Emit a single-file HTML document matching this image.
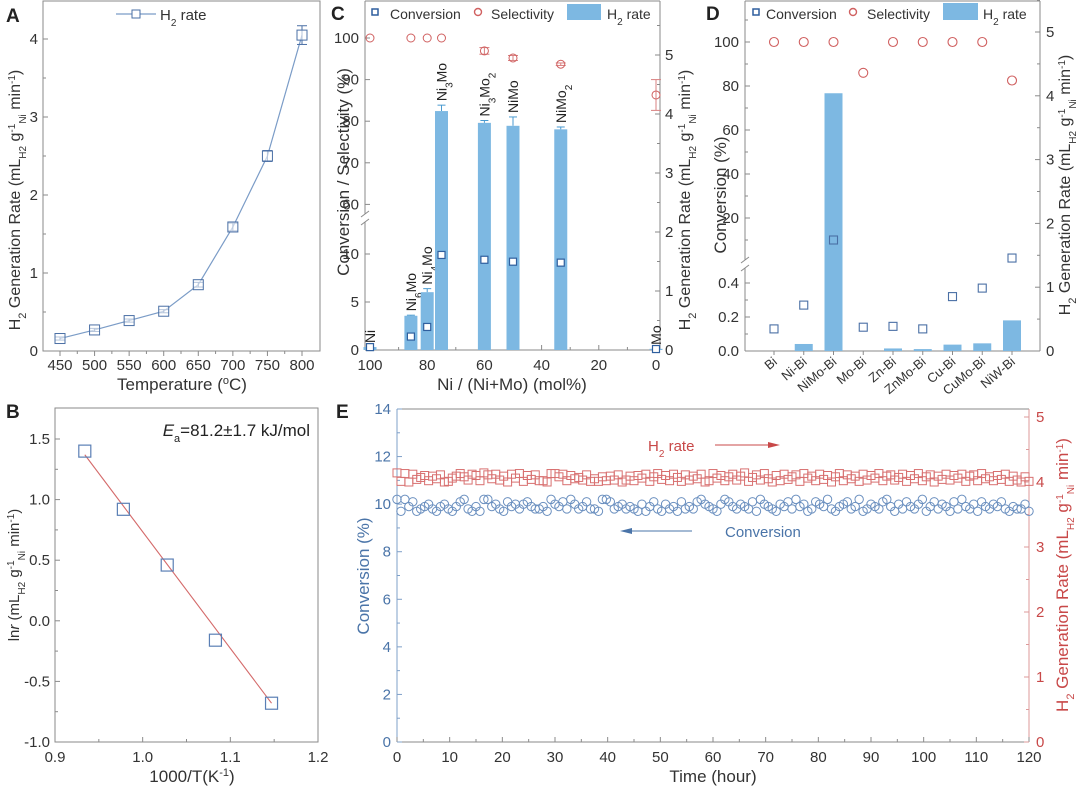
<!DOCTYPE html>
<html><head><meta charset="utf-8"><style>
html,body{margin:0;padding:0;background:#fff;}
svg{display:block;font-family:"Liberation Sans",Arial,sans-serif;}
</style></head><body>
<svg id="fig" width="1080" height="787" viewBox="0 0 1080 787" xmlns="http://www.w3.org/2000/svg">
<!-- panel letters -->
<text x="6" y="22" font-size="19" font-weight="bold" fill="#222">A</text>
<text x="6" y="418" font-size="19" font-weight="bold" fill="#222">B</text>
<text x="331" y="20" font-size="19" font-weight="bold" fill="#222">C</text>
<text x="706" y="20" font-size="19" font-weight="bold" fill="#222">D</text>
<text x="336" y="418" font-size="19" font-weight="bold" fill="#222">E</text>

<!-- Panel A titles -->
<text transform="translate(20,200) rotate(-90)" text-anchor="middle" font-size="16" fill="#333">H<tspan font-size="11" baseline-shift="sub">2</tspan> Generation Rate (mL<tspan font-size="10" baseline-shift="sub">H2</tspan> g<tspan font-size="10" baseline-shift="super">-1</tspan><tspan font-size="10" baseline-shift="sub">Ni</tspan> min<tspan font-size="10" baseline-shift="super">-1</tspan>)</text>
<text x="182" y="390" text-anchor="middle" font-size="17" fill="#333">Temperature (<tspan font-size="11" baseline-shift="super">o</tspan>C)</text>
<g>
<line x1="116" y1="14" x2="156" y2="14" stroke="#7b9cc7" stroke-width="1.2"/>
<rect x="132" y="10" width="8" height="8" fill="#fff" stroke="#4a6fa5"/>
<text x="160" y="20" font-size="15" fill="#333">H<tspan font-size="10" baseline-shift="sub">2</tspan> rate</text>
</g>

<!-- Panel B titles -->
<text transform="translate(19,575) rotate(-90)" text-anchor="middle" font-size="15" fill="#333">ln<tspan font-style="italic">r</tspan> (mL<tspan font-size="10" baseline-shift="sub">H2</tspan> g<tspan font-size="10" baseline-shift="super">-1</tspan><tspan font-size="10" baseline-shift="sub">Ni</tspan> min<tspan font-size="10" baseline-shift="super">-1</tspan>)</text>
<text x="192" y="782" text-anchor="middle" font-size="17" fill="#333">1000/T(K<tspan font-size="11" baseline-shift="super">-1</tspan>)</text>
<text x="310" y="436" text-anchor="end" font-size="17" fill="#222"><tspan font-style="italic">E</tspan><tspan font-size="11" baseline-shift="sub">a</tspan>=81.2±1.7 kJ/mol</text>

<!-- Panel C titles -->
<text transform="translate(349,172) rotate(-90)" text-anchor="middle" font-size="17" fill="#333">Conversion / Selectivity (%)</text>
<text transform="translate(690,200) rotate(-90)" text-anchor="middle" font-size="16" fill="#333">H<tspan font-size="11" baseline-shift="sub">2</tspan> Generation Rate  (mL<tspan font-size="10" baseline-shift="sub">H2</tspan> g<tspan font-size="10" baseline-shift="super">-1</tspan><tspan font-size="10" baseline-shift="sub">Ni</tspan> min<tspan font-size="10" baseline-shift="super">-1</tspan>)</text>
<text x="512" y="390" text-anchor="middle" font-size="17" fill="#333">Ni / (Ni+Mo) (mol%)</text>
<g>
<rect x="372" y="9" width="6" height="6" fill="#fff" stroke="#2f5f9e" stroke-width="1.5"/>
<text x="390" y="19" font-size="14" fill="#333">Conversion</text>
<circle cx="478" cy="12" r="3.5" fill="none" stroke="#d06060" stroke-width="1.4"/>
<text x="491" y="19" font-size="14" fill="#333">Selectivity</text>
<rect x="567" y="4" width="34" height="16" fill="#7db8e2"/>
<text x="607" y="19" font-size="14" fill="#333">H<tspan font-size="10" baseline-shift="sub">2</tspan> rate</text>
</g>

<!-- Panel D titles -->
<text transform="translate(726,195) rotate(-90)" text-anchor="middle" font-size="17" fill="#333">Conversion  (%)</text>
<text transform="translate(1070,185) rotate(-90)" text-anchor="middle" font-size="16" fill="#333">H<tspan font-size="11" baseline-shift="sub">2</tspan> Generation Rate (mL<tspan font-size="10" baseline-shift="sub">H2</tspan> g<tspan font-size="10" baseline-shift="super">-1</tspan><tspan font-size="10" baseline-shift="sub">Ni</tspan> min<tspan font-size="10" baseline-shift="super">-1</tspan>)</text>
<g>
<rect x="753" y="9" width="6" height="6" fill="#fff" stroke="#2f5f9e" stroke-width="1.5"/>
<text x="766" y="19" font-size="14" fill="#333">Conversion</text>
<circle cx="853" cy="12" r="3.5" fill="none" stroke="#d06060" stroke-width="1.4"/>
<text x="867" y="19" font-size="14" fill="#333">Selectivity</text>
<rect x="943" y="3" width="35" height="17" fill="#7db8e2"/>
<text x="983" y="19" font-size="14" fill="#333">H<tspan font-size="10" baseline-shift="sub">2</tspan> rate</text>
</g>

<!-- Panel E titles -->
<text transform="translate(369,576) rotate(-90)" text-anchor="middle" font-size="17" fill="#4a74a8">Conversion (%)</text>
<text transform="translate(1068,575) rotate(-90)" text-anchor="middle" font-size="17" fill="#c84848">H<tspan font-size="11" baseline-shift="sub">2</tspan> Generation Rate (mL<tspan font-size="10" baseline-shift="sub">H2</tspan> g<tspan font-size="10" baseline-shift="super">-1</tspan><tspan font-size="10" baseline-shift="sub">Ni</tspan> min<tspan font-size="10" baseline-shift="super">-1</tspan>)</text>
<text x="713" y="782" text-anchor="middle" font-size="17" fill="#333">Time (hour)</text>
<text x="648" y="451" font-size="15" fill="#c84848">H<tspan font-size="10" baseline-shift="sub">2</tspan> rate</text>
<line x1="715" y1="445" x2="772" y2="445" stroke="#c84848" stroke-width="1"/>
<polygon points="780,445 768,442 768,448" fill="#c84848"/>
<text x="725" y="537" font-size="15" fill="#4a74a8">Conversion</text>
<line x1="628" y1="531" x2="692" y2="531" stroke="#4a74a8" stroke-width="1"/>
<polygon points="620,531 632,528 632,534" fill="#4a74a8"/>
</svg>
<script>
// ---------- data ----------
const aTemps=[450,500,550,600,650,700,750,800];
const aRates=[0.16,0.27,0.39,0.51,0.85,1.59,2.50,4.05];
const aErr=[0.02,0.02,0.02,0.02,0.03,0.05,0.07,0.12];

const bInvT=[0.934,0.978,1.028,1.083,1.147];
const bLnR=[1.40,0.92,0.46,-0.16,-0.68];
const bFitX=[0.934,1.147];
const bFitY=[1.37,-0.68];

const cRatios=[100,85.7,80,75,60,50,33.3,0];
const cNames=['Ni','Ni6Mo','Ni4Mo','Ni3Mo','Ni3Mo2','NiMo','NiMo2','Mo'];
const cRate=[0.05,0.58,0.98,4.05,3.85,3.80,3.74,0.02];
const cRateErr=[0,0.01,0.06,0.1,0.04,0.15,0.04,0];
const cConv=[0.3,1.4,2.4,9.9,9.4,9.2,9.1,0.1];
const cSel=[100,100,100,100,96.9,95.2,93.7,86.3];
const cSelErr=[0,0,0,0,0.8,0.6,0.3,3.7];

const dCats=['Bi','Ni-Bi','NiMo-Bi','Mo-Bi','Zn-Bi','ZnMo-Bi','Cu-Bi','CuMo-Bi','NiW-Bi'];
const dRate=[0,0.11,4.04,0,0.04,0.03,0.10,0.12,0.48];
const dConv=[0.13,0.27,10,0.14,0.145,0.13,0.32,0.37,1.8];
const dSel=[100,100,100,86,100,100,100,100,82.5];

const eConv=[10.2,9.7,10.2,9.9,10.1,9.7,9.8,9.9,10.0,9.8,9.7,9.9,10.0,9.8,9.7,9.9,10.1,10.2,9.8,9.7,
9.9,9.7,10.2,10.2,9.9,10.0,9.8,9.7,10.1,9.9,10.0,9.8,10.0,10.1,9.9,9.8,9.8,9.9,9.7,10.2,
10.0,9.9,10.1,9.8,10.2,10.0,9.8,9.9,10.1,9.8,9.8,9.7,10.2,10.2,10.1,9.8,9.9,10.0,9.8,9.9,
9.8,9.7,10.0,9.7,9.9,10.1,9.8,9.7,10.0,9.8,9.9,9.7,10.1,9.8,9.9,9.8,10.1,10.2,10.0,9.9,
9.8,9.7,10.0,10.2,10.1,9.9,9.8,10.0,9.9,9.8,10.1,9.7,10.2,10.0,9.9,9.8,9.7,10.0,9.9,10.1,
9.8,10.2,9.9,10.0,9.7,9.8,10.1,10.0,9.9,10.2,9.8,9.7,9.9,10.0,10.1,9.8,9.9,10.2,9.7,9.8,
10.0,9.9,9.8,10.1,10.2,9.9,9.7,10.0,9.8,10.1,9.9,9.8,10.0,10.2,9.7,9.9,10.1,9.8,10.0,9.9,
9.7,10.1,9.8,10.2,9.9,9.8,10.0,9.7,10.1,9.9,9.8,10.0,9.9,10.1,9.8,9.7,9.9,9.8,9.8,10.0,9.7];
const eRate=[4.14,4.01,4.13,4.00,4.12,4.04,4.07,4.10,4.02,4.09,4.05,4.11,4.00,4.01,4.06,4.09,4.13,4.08,4.03,4.12,
4.10,4.02,4.14,4.11,4.05,4.12,4.03,4.09,4.00,4.12,4.06,4.13,4.01,4.10,4.04,4.11,4.02,4.02,4.00,4.13,
4.13,4.08,4.12,4.02,4.10,4.05,4.07,4.03,4.11,4.01,4.05,4.01,4.08,4.02,4.09,4.03,4.11,4.00,4.03,4.09,
4.02,4.10,4.06,4.12,4.01,4.08,4.13,4.04,4.10,4.02,4.12,4.07,4.01,4.11,4.03,4.09,4.05,4.12,4.00,4.02,
4.13,4.06,4.10,4.02,4.08,4.12,4.03,4.09,4.14,4.01,4.07,4.11,4.03,4.13,4.05,4.00,4.10,4.02,4.12,4.04,
4.08,4.11,4.01,4.13,4.06,4.09,4.02,4.12,4.04,4.10,4.00,4.08,4.13,4.02,4.11,4.05,4.09,4.01,4.12,4.03,
4.10,4.06,4.13,4.02,4.09,4.11,4.03,4.07,4.12,4.01,4.10,4.05,4.13,4.02,4.08,4.11,4.00,4.09,4.04,4.12,
4.03,4.10,4.06,4.12,4.01,4.09,4.11,4.02,4.13,4.05,4.08,4.02,4.10,4.04,4.12,4.01,4.09,4.03,4.00,4.08,4.01];
const eStep=0.75;

// ---------- helpers ----------
const NS='http://www.w3.org/2000/svg';
const svg=document.getElementById('fig');
function mk(tag,attrs,name){
  const e=document.createElementNS(NS,tag);
  for(const k in attrs) e.setAttribute(k,attrs[k]);
  
  
  svg.appendChild(e);
  return e;
}
function txt(x,y,s,size,anchor,fill,name){
  const t=mk('text',{x:x,y:y,'font-size':size,'text-anchor':anchor,fill:fill},name);
  t.textContent=s; return t;
}
function lin(d0,d1,r0,r1){return v=>r0+(v-d0)*(r1-r0)/(d1-d0);}
const AX='#8a8a8a';

// ---------- Panel A ----------
{
 const x=lin(450,800,60,302), y=lin(0,4,351,39);
 mk('rect',{x:43,y:1,width:277,height:350,fill:'none',stroke:AX,'stroke-width':1},'a-plot-frame');
 for(let v=450;v<=800;v+=25){const big=v%50===0;
   mk('line',{x1:x(v),y1:351,x2:x(v),y2:351+(big?5:3),stroke:AX},'a-x-tick');
   if(big) txt(x(v),370,String(v),15,'middle','#333','a-x-tick-label');}
 for(let v=0;v<=4.5;v+=0.5){if(y(v)<2)continue;const big=v%1===0;
   mk('line',{x1:43,y1:y(v),x2:43+(big?5:3),y2:y(v),stroke:AX},'a-y-tick');
   if(big) txt(38,y(v)+5,String(v),15,'end','#333','a-y-tick-label');}
 let p=aTemps.map((t,i)=>x(t)+','+y(aRates[i])).join(' ');
 mk('polyline',{points:p,fill:'none',stroke:'#7b9cc7','stroke-width':1.2},'a-rate-line');
 aTemps.forEach((t,i)=>{
   const cx=x(t),cy=y(aRates[i]),e1=y(aRates[i]+aErr[i]),e2=y(aRates[i]-aErr[i]);
   mk('line',{x1:cx,y1:e1,x2:cx,y2:e2,stroke:'#4a6fa5'},'a-error-bar');
   mk('line',{x1:cx-5,y1:e1,x2:cx+5,y2:e1,stroke:'#4a6fa5'},'a-error-cap');
   mk('line',{x1:cx-5,y1:e2,x2:cx+5,y2:e2,stroke:'#4a6fa5'},'a-error-cap');
   mk('rect',{x:cx-5,y:cy-5,width:10,height:10,fill:'#fff','fill-opacity':0.6,stroke:'#4a6fa5'},'a-rate-point');
 });
}

// ---------- Panel B ----------
{
 const x=lin(0.9,1.2,55,318), y=lin(-1,1.5,742,439);
 mk('rect',{x:55,y:408,width:263,height:334,fill:'none',stroke:AX},'b-plot-frame');
 for(let k=0;k<=6;k++){const v=0.9+k*0.05,big=k%2===0;
   mk('line',{x1:x(v),y1:742,x2:x(v),y2:742-(big?5:3),stroke:AX},'b-x-tick');
   if(big) txt(x(v),762,v.toFixed(1),15,'middle','#333','b-x-tick-label');}
 for(let k=0;k<=10;k++){const v=-1+k*0.25,big=k%2===0;
   mk('line',{x1:55,y1:y(v),x2:55+(big?5:3),y2:y(v),stroke:AX},'b-y-tick');
   if(big) txt(50,y(v)+5,v.toFixed(1),15,'end','#333','b-y-tick-label');}
 mk('line',{x1:x(bFitX[0]),y1:y(bFitY[0]),x2:x(bFitX[1]),y2:y(bFitY[1]),stroke:'#d46a6a','stroke-width':1.1},'b-fit-line');
 bInvT.forEach((t,i)=>{
   mk('rect',{x:x(t)-6,y:y(bLnR[i])-6,width:12,height:12,fill:'none',stroke:'#5a7fb5','stroke-width':1.2},'b-data-point');
 });
}

// ---------- Panel C ----------
{
 const x=lin(100,0,370,656);
 const yl=v=> v<=13 ? 350-9.6*v : 38+(100-v)*4.16;
 const yr=lin(0,5,350,55);
 mk('line',{x1:365,y1:1,x2:660,y2:1,stroke:AX},'c-frame-top');
 mk('line',{x1:365,y1:350,x2:660,y2:350,stroke:AX},'c-x-axis');
 mk('line',{x1:660,y1:1,x2:660,y2:350,stroke:AX},'c-right-axis');
 mk('line',{x1:365,y1:1,x2:365,y2:214,stroke:AX},'c-left-axis-upper');
 mk('line',{x1:365,y1:222,x2:365,y2:350,stroke:AX},'c-left-axis-lower');
 mk('line',{x1:361,y1:217,x2:369,y2:211,stroke:AX},'c-axis-break');
 mk('line',{x1:361,y1:225,x2:369,y2:219,stroke:AX},'c-axis-break');
 for(let v=0;v<=100;v+=10){const big=v%20===0;
   mk('line',{x1:x(v),y1:350,x2:x(v),y2:350-(big?5:3),stroke:AX},'c-x-tick');
   if(big) txt(x(v),370,String(v),15,'middle','#333','c-x-tick-label');}
 [0,5,10].forEach(v=>{mk('line',{x1:365,y1:yl(v),x2:370,y2:yl(v),stroke:AX},'c-y-tick');
   txt(359,yl(v)+5,String(v),15,'end','#333','c-y-tick-label');});
 [60,70,80,90,100].forEach(v=>{mk('line',{x1:365,y1:yl(v),x2:370,y2:yl(v),stroke:AX},'c-y-tick');
   txt(359,yl(v)+5,String(v),15,'end','#333','c-y-tick-label');});
 for(let v=0;v<=5.5;v+=0.5){const big=v%1===0;
   mk('line',{x1:660,y1:yr(v),x2:660-(big?5:3),y2:yr(v),stroke:AX},'c-right-tick');
   if(big) txt(665,yr(v)+5,String(v),15,'start','#333','c-right-tick-label');}
 const subs={'Ni':['Ni'],'Ni6Mo':['Ni','6','Mo'],'Ni4Mo':['Ni','4','Mo'],'Ni3Mo':['Ni','3','Mo'],'Ni3Mo2':['Ni','3','Mo','2'],'NiMo':['NiMo'],'NiMo2':['NiMo','2'],'Mo':['Mo']};
 cRatios.forEach((r,i)=>{
   const cx=x(r),top=yr(cRate[i]);
   mk('rect',{x:cx-6.5,y:top,width:13,height:350-top,fill:'#7db8e2'},'c-rate-bar');
   if(cRateErr[i]>0){const e1=yr(cRate[i]+cRateErr[i]);
     mk('line',{x1:cx,y1:e1,x2:cx,y2:top,stroke:'#4a9ad0'},'c-rate-error');
     mk('line',{x1:cx-4,y1:e1,x2:cx+4,y2:e1,stroke:'#4a9ad0'},'c-rate-error-cap');}
   const cy=yl(cConv[i]);
   mk('rect',{x:cx-3.5,y:cy-3.5,width:7,height:7,fill:'#fff',stroke:'#2f5f9e','stroke-width':1.2},'c-conversion-point');
   const sy=yl(cSel[i]);
   if(cSelErr[i]>0){const s1=yl(cSel[i]+cSelErr[i]),s2=yl(cSel[i]-cSelErr[i]);
     mk('line',{x1:cx,y1:s1,x2:cx,y2:s2,stroke:'#d88080'},'c-selectivity-error');
     mk('line',{x1:cx-5,y1:s1,x2:cx+5,y2:s1,stroke:'#d88080'},'c-selectivity-error-cap');
     mk('line',{x1:cx-5,y1:s2,x2:cx+5,y2:s2,stroke:'#d88080'},'c-selectivity-error-cap');}
   mk('circle',{cx:cx,cy:sy,r:4,fill:'none',stroke:'#d06060','stroke-width':1},'c-selectivity-point');
   const ly=(cRateErr[i]>0?yr(cRate[i]+cRateErr[i]):top)-4;
   const t=mk('text',{transform:`translate(${cx+5},${ly}) rotate(-90)`,'font-size':14,fill:'#222'},'c-bar-label');
   subs[cNames[i]].forEach((s,j)=>{const ts=document.createElementNS(NS,'tspan');
     if(/^\d$/.test(s)){ts.setAttribute('font-size','10');ts.setAttribute('baseline-shift','sub');}
     ts.textContent=s;t.appendChild(ts);});
 });
}

// ---------- Panel D ----------
{
 const x=i=>774+i*29.75;
 const yl=v=> v<=0.5 ? 351-170*v : 262-2.2*v;
 const yr=lin(0,5,351,32);
 mk('line',{x1:745,y1:1,x2:1040,y2:1,stroke:AX},'d-frame-top');
 mk('line',{x1:745,y1:351,x2:1040,y2:351,stroke:AX},'d-x-axis');
 mk('line',{x1:1040,y1:1,x2:1040,y2:351,stroke:AX},'d-right-axis');
 mk('line',{x1:745,y1:1,x2:745,y2:260,stroke:AX},'d-left-axis-upper');
 mk('line',{x1:745,y1:268,x2:745,y2:351,stroke:AX},'d-left-axis-lower');
 mk('line',{x1:741,y1:263,x2:749,y2:257,stroke:AX},'d-axis-break');
 mk('line',{x1:741,y1:271,x2:749,y2:265,stroke:AX},'d-axis-break');
 [0,0.1,0.2,0.3,0.4].forEach(v=>{const big=Math.round(v*10)%2===0;
   mk('line',{x1:745,y1:yl(v),x2:745+(big?5:3),y2:yl(v),stroke:AX},'d-y-tick');
   if(big) txt(739,yl(v)+5,v.toFixed(1),15,'end','#333','d-y-tick-label');});
 for(let v=10;v<=110;v+=10){const big=v%20===0;
   mk('line',{x1:745,y1:yl(v),x2:745+(big?5:3),y2:yl(v),stroke:AX},'d-y-tick');
   if(big) txt(739,yl(v)+5,String(v),15,'end','#333','d-y-tick-label');}
 for(let v=0;v<=5.5;v+=0.5){const big=v%1===0;
   mk('line',{x1:1040,y1:yr(v),x2:1040-(big?5:3),y2:yr(v),stroke:AX},'d-right-tick');
   if(big) txt(1046,yr(v)+5,String(v),15,'start','#333','d-right-tick-label');}
 dCats.forEach((c,i)=>{
   const cx=x(i),top=yr(dRate[i]);
   if(dRate[i]>0) mk('rect',{x:cx-9,y:top,width:18,height:351-top,fill:'#7db8e2'},'d-rate-bar');
   const cy=yl(dConv[i]);
   mk('rect',{x:cx-4,y:cy-4,width:8,height:8,fill:'none',stroke:'#4a6fa5','stroke-width':1.1},'d-conversion-point');
   mk('circle',{cx:cx,cy:yl(dSel[i]),r:4.5,fill:'none',stroke:'#d06060','stroke-width':1.1},'d-selectivity-point');
   mk('line',{x1:cx,y1:351,x2:cx,y2:355,stroke:AX},'d-x-tick');
   const t=mk('text',{transform:`translate(${cx+4},${363}) rotate(-40)`,'font-size':13,'text-anchor':'end',fill:'#333'},'d-category-label');
   t.textContent=c;
 });
}

// ---------- Panel E ----------
{
 const x=lin(0,120,397,1029), yl=lin(0,14,742,409), yr=lin(0,5,742,417);
 mk('line',{x1:397,y1:409,x2:1029,y2:409,stroke:AX},'e-frame-top');
 mk('line',{x1:397,y1:742,x2:1029,y2:742,stroke:AX},'e-x-axis');
 mk('line',{x1:397,y1:409,x2:397,y2:742,stroke:'#7fa0c8'},'e-left-axis');
 mk('line',{x1:1029,y1:409,x2:1029,y2:742,stroke:'#dc9a9a'},'e-right-axis');
 for(let v=0;v<=120;v+=5){const big=v%10===0;
   mk('line',{x1:x(v),y1:742,x2:x(v),y2:742-(big?5:3),stroke:AX},'e-x-tick');
   if(big) txt(x(v),762,String(v),15,'middle','#333','e-x-tick-label');}
 for(let v=0;v<=14;v+=1){const big=v%2===0;
   mk('line',{x1:397,y1:yl(v),x2:397+(big?5:3),y2:yl(v),stroke:'#7fa0c8'},'e-left-tick');
   if(big) txt(391,yl(v)+5,String(v),15,'end','#4a74a8','e-left-tick-label');}
 for(let v=0;v<=5;v+=0.5){const big=v%1===0;
   mk('line',{x1:1029,y1:yr(v),x2:1029-(big?5:3),y2:yr(v),stroke:'#dc9a9a'},'e-right-tick');
   if(big) txt(1036,yr(v)+5,String(v),15,'start','#c84848','e-right-tick-label');}
 eRate.forEach((v,i)=>{
   mk('rect',{x:x(i*eStep)-4,y:yr(v)-4,width:8,height:8,fill:'none',stroke:'#d87070','stroke-width':1},'e-rate-point');
 });
 eConv.forEach((v,i)=>{
   mk('circle',{cx:x(i*eStep),cy:yl(v),r:4.2,fill:'none',stroke:'#6a8fbf','stroke-width':1},'e-conversion-point');
 });
}
</script>
</body></html>
